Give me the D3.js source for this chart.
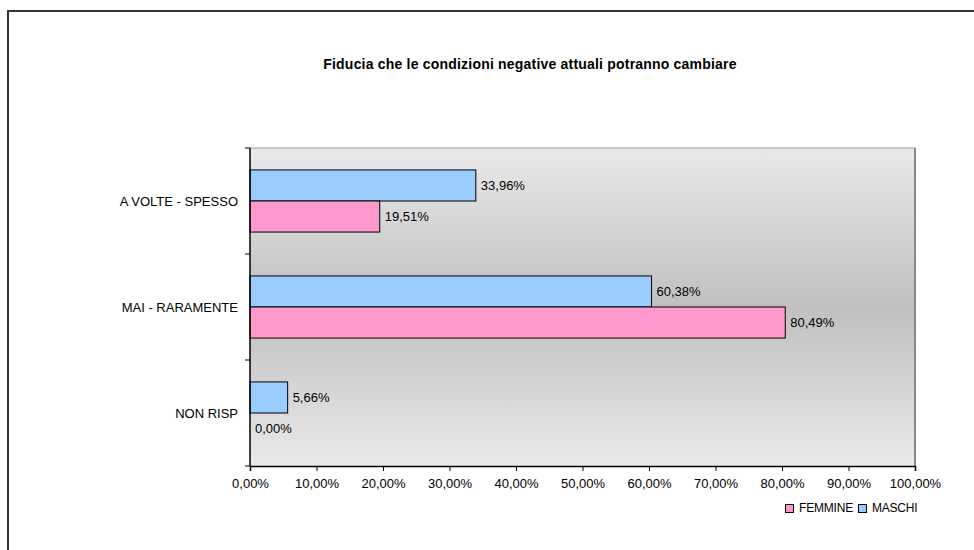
<!DOCTYPE html>
<html>
<head>
<meta charset="utf-8">
<script src="https://cdn.jsdelivr.net/npm/d3@7"></script>
<style>
  body { margin: 0; background: #fff; overflow: hidden; }
  svg { display: block; }
  text { font-family: "Liberation Sans", Arial, sans-serif; }
</style>
</head>
<body>
<div id="chart"></div>
<script>
const categories = ["A VOLTE - SPESSO", "MAI - RARAMENTE", "NON RISP"];
const maschi = [33.96, 60.38, 5.66];
const femmine = [19.51, 80.49, 0.0];
const xTicks = [0, 10, 20, 30, 40, 50, 60, 70, 80, 90, 100];
const seriesNames = ["FEMMINE", "MASCHI"];
const seriesColors = { MASCHI: "#99ccff", FEMMINE: "#ff99cc" };

const W = 974, H = 550;
const margin = { top: 148, right: 59, bottom: 84, left: 250 },
  width = W - margin.left - margin.right,
  height = H - margin.top - margin.bottom;

const fmt = (v) => v.toFixed(2).replace(".", ",") + "%";

const root = d3.select("#chart").append("svg")
  .attr("width", W).attr("height", H);

// outer chart border: only the top and left edges fall inside the frame
root.append("path")
  .attr("d", `M8,${H} L8,11 L${W},11`)
  .attr("fill", "none").attr("stroke", "#333").attr("stroke-width", 2);

root.append("text")
  .attr("x", 530).attr("y", 69)
  .attr("text-anchor", "middle")
  .attr("font-size", "14px").attr("font-weight", "bold")
  .attr("letter-spacing", "0.2px")
  .text("Fiducia che le condizioni negative attuali potranno cambiare");

const defs = root.append("defs");
const grad = defs.append("linearGradient").attr("id", "bg")
  .attr("x1", 0).attr("y1", 0).attr("x2", 0).attr("y2", 1);
grad.append("stop").attr("offset", "0%").attr("stop-color", "#e9e9e9");
grad.append("stop").attr("offset", "50%").attr("stop-color", "#c0c0c0");
grad.append("stop").attr("offset", "100%").attr("stop-color", "#e9e9e9");

const svg = root.append("g")
  .attr("transform", `translate(${margin.left}, ${margin.top})`);

svg.append("rect")
  .attr("width", width).attr("height", height)
  .attr("fill", "url(#bg)");
// plot border: light top, grey right
svg.append("line").attr("x1", 0).attr("x2", width).attr("y1", 0).attr("y2", 0)
  .attr("stroke", "#999").attr("stroke-width", 1);
svg.append("line").attr("x1", width).attr("x2", width).attr("y1", 0).attr("y2", height)
  .attr("stroke", "#888").attr("stroke-width", 2);

const x = d3.scaleLinear().domain([0, 100]).range([0, width]);
const y = d3.scaleBand().domain(categories).range([0, height]);
const inner = d3.scaleBand().domain(["MASCHI", "FEMMINE"])
  .range([y.bandwidth() * 0.207, y.bandwidth() * 0.793]);

const data = categories.map((c, i) => ({ cat: c, MASCHI: maschi[i], FEMMINE: femmine[i] }));

const groups = svg.append("g").selectAll("g")
  .data(data).join("g")
  .attr("transform", (d) => `translate(0, ${y(d.cat)})`);

groups.selectAll("rect")
  .data((d) => ["MASCHI", "FEMMINE"].map((k) => ({ key: k, value: d[k] })))
  .join("rect")
  .attr("x", x(0))
  .attr("y", (d) => inner(d.key))
  .attr("width", (d) => x(d.value))
  .attr("height", inner.bandwidth())
  .attr("fill", (d) => seriesColors[d.key])
  .attr("stroke", (d) => d.value > 0 ? "#000" : "none")
  .attr("stroke-width", 1);

groups.selectAll("text")
  .data((d) => ["MASCHI", "FEMMINE"].map((k) => ({ key: k, value: d[k] })))
  .join("text")
  .attr("x", (d) => x(d.value) + 5)
  .attr("y", (d) => inner(d.key) + inner.bandwidth() / 2)
  .attr("dy", "0.35em")
  .attr("font-size", "13px")
  .attr("fill", "#000")
  .text((d) => fmt(d.value));

// x axis
const xAxis = svg.append("g")
  .attr("transform", `translate(0, ${height})`)
  .call(d3.axisBottom(x).tickValues(xTicks).tickSize(5).tickPadding(8).tickFormat(fmt));
xAxis.select(".domain").attr("stroke", "#000").attr("stroke-width", 1.5);
xAxis.selectAll(".tick line").attr("stroke", "#000");
xAxis.selectAll("text").attr("font-size", "13px").attr("fill", "#000")
  .attr("font-family", "Liberation Sans, Arial, sans-serif");

// y axis with ticks between categories
const yAxis = svg.append("g");
yAxis.append("line").attr("x1", 0).attr("x2", 0).attr("y1", 0).attr("y2", height)
  .attr("stroke", "#000").attr("stroke-width", 1.5);
yAxis.selectAll(".yt")
  .data(d3.range(categories.length + 1))
  .join("line")
  .attr("x1", -5).attr("x2", 0)
  .attr("y1", (i) => i * y.step()).attr("y2", (i) => i * y.step())
  .attr("stroke", "#000");
yAxis.selectAll(".cl")
  .data(categories)
  .join("text")
  .attr("x", -12)
  .attr("y", (d) => y(d) + y.bandwidth() / 2)
  .attr("dy", "0.35em")
  .attr("text-anchor", "end")
  .attr("font-size", "13px")
  .text((d) => d);

// legend
const legend = root.append("g").attr("transform", "translate(785, 508)");
let lx = 0;
seriesNames.forEach((n) => {
  const g = legend.append("g").attr("transform", `translate(${lx}, 0)`);
  g.append("rect").attr("x", 0.5).attr("y", -3.5).attr("width", 8).attr("height", 8)
    .attr("fill", seriesColors[n]).attr("stroke", "#000").attr("stroke-width", 1);
  const t = g.append("text").attr("x", 14).attr("y", 0).attr("dy", "0.35em")
    .attr("font-size", "12px").attr("letter-spacing", "-0.2px").text(n);
  lx += 14 + t.node().getComputedTextLength() + 5;
});
</script>
</body>
</html>
